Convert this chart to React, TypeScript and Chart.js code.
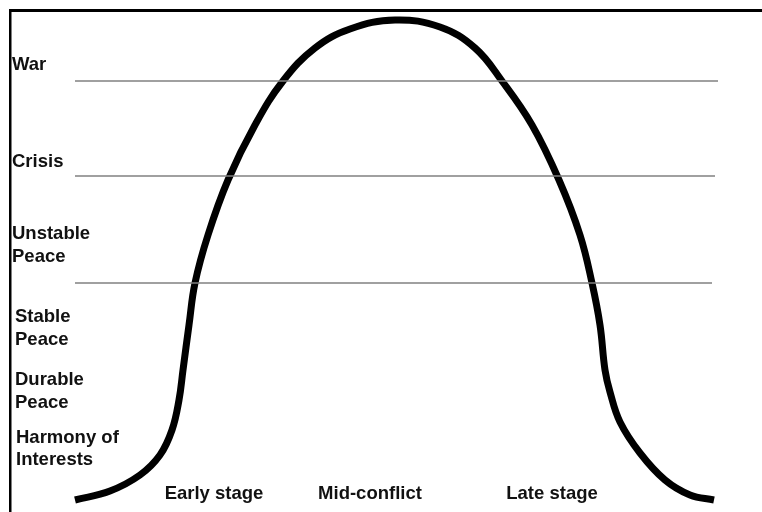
import React, { useEffect, useRef } from "react";
import { Chart, registerables } from "chart.js";

Chart.register(...registerables);

// Curve: time (x) vs. conflict intensity (y), arbitrary units
const curveX = [65, 100, 130, 150, 162, 169, 173, 179, 185, 198, 218, 245, 273, 305, 340, 385, 430, 465, 492, 522, 549, 570, 582, 590, 595, 600, 610, 630, 655, 680, 704];
const curveY = [12, 21, 37, 57, 82, 112, 142, 187, 229, 277, 332, 387, 431, 464, 483, 492, 485, 464, 431, 387, 332, 277, 229, 187, 142, 120, 90, 59, 32, 17, 12];

// Level boundaries (horizontal reference lines)
const boundaryLevels = [431, 336, 229];
const boundaryStart = [65, 65, 65];
const boundaryEnd = [708, 705, 702];

// Level labels on the left (each line of text, with its x and baseline level)
const levelLines = ["War", "Crisis", "Unstable", "Peace", "Stable", "Peace", "Durable", "Peace", "Harmony of", "Interests"];
const levelLineX = [2, 2, 2, 2, 5, 5, 5, 5, 6, 6];
const levelLineY = [442.5, 345.5, 273.5, 250.5, 190.5, 167.5, 127.5, 104.5, 69.5, 47.5];

// Stage labels along the bottom
const stageLabels = ["Early stage", "Mid-conflict", "Late stage"];
const stageX = [204, 360, 542];
const stageY = 13.5;

const FONT = "bold 18.5px 'Liberation Sans', Arial, sans-serif";

const labelPlugin = {
  id: "textLabels",
  afterDatasetsDraw(chart: any) {
    const { ctx, scales } = chart;
    const xs = scales.x;
    const ys = scales.y;
    ctx.save();
    ctx.font = FONT;
    ctx.fillStyle = "#111";
    ctx.textBaseline = "alphabetic";
    ctx.textAlign = "left";
    levelLines.forEach((t, i) => {
      ctx.fillText(t, xs.getPixelForValue(levelLineX[i]), ys.getPixelForValue(levelLineY[i]));
    });
    ctx.textAlign = "center";
    stageLabels.forEach((t, i) => {
      ctx.fillText(t, xs.getPixelForValue(stageX[i]), ys.getPixelForValue(stageY));
    });
    ctx.restore();
  },
};

export default function App() {
  const ref = useRef<HTMLCanvasElement | null>(null);

  useEffect(() => {
    if (!ref.current) return;
    const boundaryDatasets = boundaryLevels.map((lv, i) => ({
      type: "line" as const,
      data: [
        { x: boundaryStart[i], y: lv },
        { x: boundaryEnd[i], y: lv },
      ],
      borderColor: "#808080",
      borderWidth: 1.5,
      pointRadius: 0,
      tension: 0,
      fill: false,
    }));
    const chart = new Chart(ref.current, {
      type: "line",
      data: {
        datasets: [
          ...boundaryDatasets,
          {
            data: curveX.map((x, i) => ({ x, y: curveY[i] })),
            borderColor: "#000",
            borderWidth: 7,
            borderCapStyle: "butt",
            borderJoinStyle: "round",
            tension: 0.4,
            pointRadius: 0,
            fill: false,
          },
        ],
      },
      options: {
        responsive: false,
        animation: false,
        layout: { padding: { left: 10, top: 10, right: 0, bottom: 0 } },
        plugins: { legend: { display: false }, tooltip: { enabled: false } },
        events: [],
        scales: {
          x: {
            type: "linear",
            position: "top",
            min: 0,
            max: 752,
            grid: { display: false, drawTicks: false },
            ticks: { display: false },
            border: { display: true, color: "#000", width: 3 },
          },
          y: {
            type: "linear",
            position: "left",
            min: 0,
            max: 502,
            grid: { display: false, drawTicks: false },
            ticks: { display: false },
            border: { display: true, color: "#000", width: 2.5 },
          },
        },
      },
      plugins: [labelPlugin],
    } as any);
    return () => chart.destroy();
  }, []);

  return (
    <div style={{ position: "fixed", left: 0, top: 0, width: 762, height: 512, background: "#fff" }}>
      <canvas ref={ref} width={762} height={512} style={{ display: "block" }} />
    </div>
  );
}
